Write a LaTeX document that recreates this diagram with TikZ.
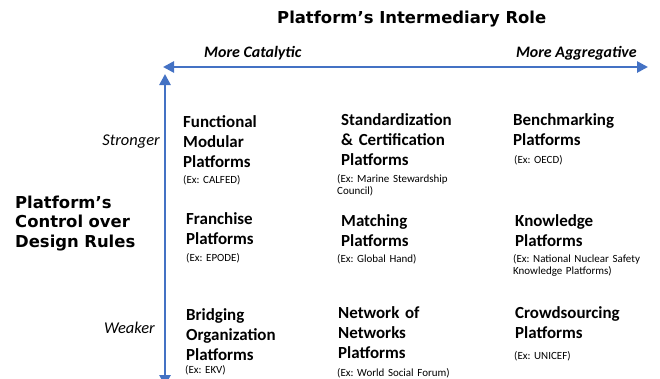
\documentclass[tikz,border=0pt]{standalone}
\usepackage{fontspec}
\setmainfont{Carlito}
\newfontfamily\headfont{DejaVu Sans}
\usetikzlibrary{arrows.meta}
\frenchspacing
\definecolor{axisblue}{RGB}{68,114,196}
\tikzset{
	axisarrow/.style={draw=axisblue, line width=2.6bp,
		{Triangle[length=11bp,width=11bp]}-{Triangle[length=11bp,width=11bp]}},
	heading/.style={inner sep=0pt, font=\headfont\bfseries\fontsize{16.5}{20}\selectfont},
	poleside/.style={inner sep=0pt, font=\itshape\fontsize{16.5}{20}\selectfont},
	polename/.style={inner sep=0pt, font=\bfseries\itshape\fontsize{16}{20}\selectfont},
	cell/.style={anchor=base west, inner sep=0pt, text width=160bp, align=left,
		font=\bfseries\fontsize{17}{20.5}\selectfont},
	exnote/.style={anchor=base west, inner sep=0pt, text width=160bp, align=left,
		font=\fontsize{11}{12.8}\selectfont}
}
\begin{document}
\begin{tikzpicture}[x=1bp,y=-1bp]
	\useasboundingbox (0,0) rectangle (660,378);
	% ends of the two axes
	\coordinate (HL) at (163,67);
	\coordinate (HR) at (648,67);
	\coordinate (VT) at (165,74);
	\coordinate (VB) at (165,386);
	\draw[axisarrow] (HL) -- (HR);
	\draw[axisarrow] (VT) -- (VB);
	
	% axis titles
	\node[heading, anchor=base west] (roletitle) at (277,23) {Platform’s Intermediary Role};
	\node[heading, anchor=base west, text width=150bp, align=left] (controltitle) at (15,208)
		{Platform’s\\Control over\\Design Rules};
	\node[polename, anchor=base west] (catalytic) at (204,57) {More Catalytic};
	\node[polename, anchor=base east] (aggregative) at (637,57) {More Aggregative};
	\node[poleside, anchor=base east] (stronger) at (160,145) {Stronger};
	\node[poleside, anchor=base east] (weaker) at (155,333) {Weaker};
	
	% row 1 (stronger control)
	\node[cell] (modular) at (183,127) {Functional\\Modular\\Platforms};
	\node[exnote] (modularex) at (183,183) {(Ex: CALFED)};
	\node[cell] (standard) at (341,125) {Standardization\\\& Certification\\Platforms};
	\node[exnote] (standardex) at (337,182) {(Ex: Marine Stewardship\\Council)};
	\node[cell] (benchmark) at (513,125) {Benchmarking\\Platforms};
	\node[exnote] (benchmarkex) at (514,163) {(Ex: OECD)};
	
	% row 2
	\node[cell] (franchise) at (186,224) {Franchise\\Platforms};
	\node[exnote] (franchiseex) at (186,261.5) {(Ex: EPODE)};
	\node[cell] (matching) at (341,226) {Matching\\Platforms};
	\node[exnote] (matchingex) at (337,262) {(Ex: Global Hand)};
	\node[cell] (knowledge) at (515,226) {Knowledge\\Platforms};
	\node[exnote] (knowledgeex) at (513,262) {(Ex: National Nuclear Safety\\Knowledge Platforms)};
	
	% row 3 (weaker control)
	\node[cell] (bridging) at (186,320) {Bridging\\Organization\\Platforms};
	\node[exnote] (bridgingex) at (185,373) {(Ex: EKV)};
	\node[cell] (network) at (338,318) {Network of\\Networks\\Platforms};
	\node[exnote] (networkex) at (337,376) {(Ex: World Social Forum)};
	\node[cell] (crowd) at (515,318) {Crowdsourcing\\Platforms};
	\node[exnote] (crowdex) at (514,359) {(Ex: UNICEF)};
\end{tikzpicture}
\end{document}
